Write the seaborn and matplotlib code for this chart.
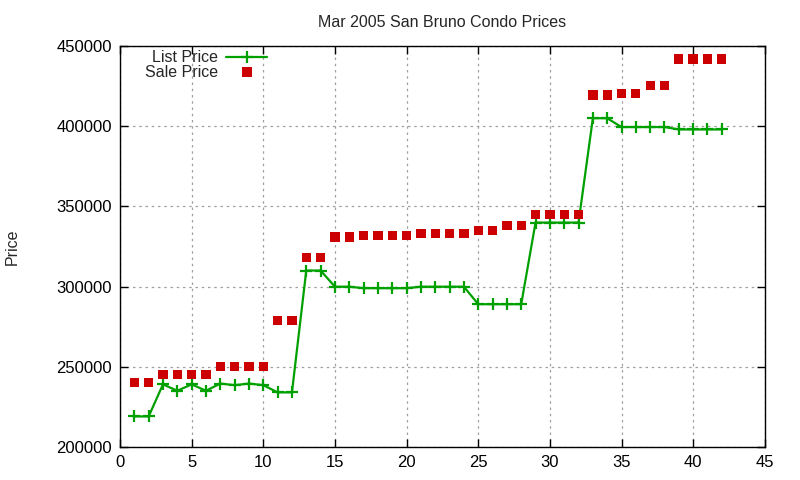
import matplotlib
matplotlib.use("Agg")
import matplotlib.pyplot as plt
from matplotlib.lines import Line2D
import seaborn as sns
import pandas as pd

# data
listing = list(range(1, 43))
list_price = [219000, 219000, 239000, 235000, 239000, 235000, 239500, 238500, 239500, 238500,
              234000, 234000, 310000, 310000, 299900, 299900, 299000, 299000, 299000, 299000,
              299900, 299900, 299900, 299900, 289000, 289000, 289000, 289000, 339900, 339900,
              339900, 339900, 405000, 405000, 399500, 399500, 399500, 399500, 398000, 398000,
              398000, 398000]
sale_price = [240000, 240000, 245000, 245000, 245000, 245000, 250000, 250000, 250000, 250000,
              279000, 279000, 318000, 318000, 331000, 331000, 332000, 332000, 332000, 332000,
              333000, 333000, 333000, 333000, 335000, 335000, 338000, 338000, 345000, 345000,
              345000, 345000, 419500, 419500, 420500, 420500, 425500, 425500, 442000, 442000,
              442000, 442000]
x_ticks = list(range(0, 50, 5))
y_ticks = list(range(200000, 450001, 50000))

GREEN = "#00a000"
RED = "#cc0000"

df = pd.DataFrame({"n": listing, "list": list_price, "sale": sale_price})

sns.set_style("ticks")
plt.rcParams["font.family"] = ["Liberation Sans", "DejaVu Sans"]

fig = plt.figure(figsize=(8, 4.8), dpi=100)
ax = fig.add_axes([0.15, 0.069, 0.806, 0.835])

sns.lineplot(data=df, x="n", y="list", ax=ax, color=GREEN, linewidth=1.6,
             marker="+", markersize=8, markeredgewidth=1.6,
             markeredgecolor=GREEN, zorder=3)
sns.scatterplot(data=df, x="n", y="sale", ax=ax, color=RED, marker="s", s=45,
                edgecolor="none", zorder=4)

ax.set_xlim(0, 45)
ax.set_ylim(200000, 450000)
ax.set_xticks(x_ticks)
ax.set_yticks(y_ticks)
ax.set_axisbelow(True)
ax.grid(True, color="#a0a0a0", linestyle=(0, (2, 3)), linewidth=0.9)
ax.tick_params(direction="in", top=True, right=True, length=6, width=1,
               labelsize=12, colors="black", pad=6)
for s in ax.spines.values():
    s.set_color("black")
    s.set_linewidth(1)

ax.set_xlabel("")
ax.set_ylabel("Price", fontsize=11.5, labelpad=26)
ax.set_title("Mar 2005 San Bruno Condo Prices", fontsize=11.5, pad=14)

handles = [
    Line2D([], [], color=GREEN, linewidth=1.6, marker="+", markersize=8,
           markeredgewidth=1.6, markeredgecolor=GREEN),
    Line2D([], [], color=RED, linestyle="none", marker="s", markersize=7, markeredgewidth=0),
]
ax.legend(handles, ["List Price", "Sale Price"], loc="upper left",
          bbox_to_anchor=(0.016, 1.025), frameon=False, markerfirst=False,
          fontsize=11.5, handlelength=2.6, handletextpad=0.5, labelspacing=0.0)

fig.savefig("out.png", dpi=100)
